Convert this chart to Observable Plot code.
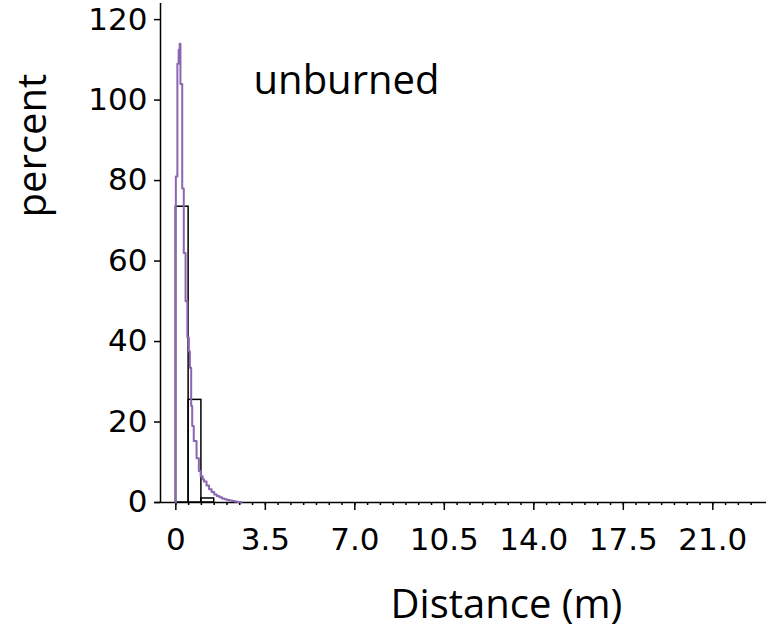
<!DOCTYPE html>
<html>
<head>
<meta charset="utf-8">
<script src="https://cdn.jsdelivr.net/npm/d3@7"></script>
<script src="https://cdn.jsdelivr.net/npm/@observablehq/plot@0.6"></script>
<style>
  html, body { margin: 0; padding: 0; background: #fff; }
</style>
</head>
<body>
<div id="chart"></div>
<script>
// Histogram of distances (unburned plots): 0.5 m bins, in percent
const binStart = [0, 0.5, 1.0];
const binEnd = [0.5, 1.0, 1.5];
const binPercent = [73.5, 25.5, 1.0];

// Fitted density, drawn as a fine step curve (percent scale)
const densityX = [0, 0, 0.06, 0.11, 0.15, 0.18, 0.25, 0.31, 0.38, 0.45, 0.51, 0.55, 0.60, 0.64, 0.70, 0.81, 0.90,
  0.97, 1.05, 1.1, 1.2, 1.3, 1.4, 1.5, 1.6, 1.7, 1.8, 1.9, 2.0, 2.1, 2.2, 2.3, 2.4, 2.5, 2.56];
const densityY = [0, 81, 109, 112.5, 114, 104, 78, 62, 50, 41, 37.5, 33.5, 24, 19, 15.3, 11, 7.8,
  6.5, 5.8, 5.2, 4.2, 3.3, 2.6, 2.0, 1.6, 1.3, 1.0, 0.8, 0.6, 0.5, 0.35, 0.25, 0.15, 0.1, 0];

// Axis ticks
const percentTicks = [0, 20, 40, 60, 80, 100, 120];
const distanceTicks = [0, 3.5, 7.0, 10.5, 14.0, 17.5, 21.0];
const distanceTickLabels = ["0", "3.5", "7.0", "10.5", "14.0", "17.5", "21.0"];
const distanceMinorTicks = d3.range(0, 23, 0.5);

const bins = binStart.map((x1, i) => ({x1, x2: binEnd[i], y: binPercent[i]}));
const density = densityX.map((x, i) => ({x, y: densityY[i]}));

const tickFont = "DejaVu Sans, sans-serif";
const labelFont = "Open Sans, sans-serif";

const chart = Plot.plot({
  width: 775,
  height: 632,
  marginLeft: 160,
  marginRight: 9,
  marginTop: 3,
  marginBottom: 130,
  x: {domain: [-0.6, 23.1]},
  y: {domain: [0, 124]},
  style: {fontFamily: tickFont, fontSize: "31px", color: "#000", background: "#fff"},
  marks: [
    // axis lines
    Plot.ruleY([0], {x1: -0.83, x2: 23.1, stroke: "#000", strokeWidth: 1.5}),
    Plot.ruleX([-0.6], {y1: 0, y2: 124, stroke: "#000", strokeWidth: 1.5}),
    Plot.axisY({
      ticks: percentTicks, tickSize: 6, tickPadding: 7, label: null,
      stroke: "#000", strokeWidth: 1.5, fontSize: 31, fontFamily: tickFont
    }),
    Plot.axisX({
      ticks: distanceMinorTicks, tickSize: 3, tickFormat: () => "", label: null,
      stroke: "#000", strokeWidth: 1.5
    }),
    Plot.axisX({
      ticks: distanceTicks, tickSize: 8, tickPadding: 17, label: null,
      tickFormat: (d) => distanceTickLabels[distanceTicks.indexOf(d)],
      stroke: "#000", strokeWidth: 1.5, fontSize: 31, fontFamily: tickFont
    }),
    // histogram bars
    Plot.rect(bins, {x1: "x1", x2: "x2", y1: 0, y2: "y", fill: "none", stroke: "#000", strokeWidth: 1.5}),
    // density step curve
    Plot.line(density, {x: "x", y: "y", curve: "step-after", stroke: "#8a66b3", strokeWidth: 2}),
    // labels
    Plot.text(["unburned"], {x: 3.04, y: 101.6, text: d => d, textAnchor: "start", lineAnchor: "bottom",
      fontFamily: labelFont, fontSize: 40, fill: "#000"}),
    Plot.text(["percent"], {x: -5.57, y: 88.7, text: d => d, rotate: -90, textAnchor: "middle", lineAnchor: "middle",
      fontFamily: labelFont, fontSize: 40, fill: "#000"}),
    Plot.text(["Distance (m)"], {x: 12.93, y: -25.5, text: d => d, textAnchor: "middle", lineAnchor: "middle",
      fontFamily: labelFont, fontSize: 40, fill: "#000"})
  ]
});

document.getElementById("chart").appendChild(chart);
</script>
</body>
</html>
